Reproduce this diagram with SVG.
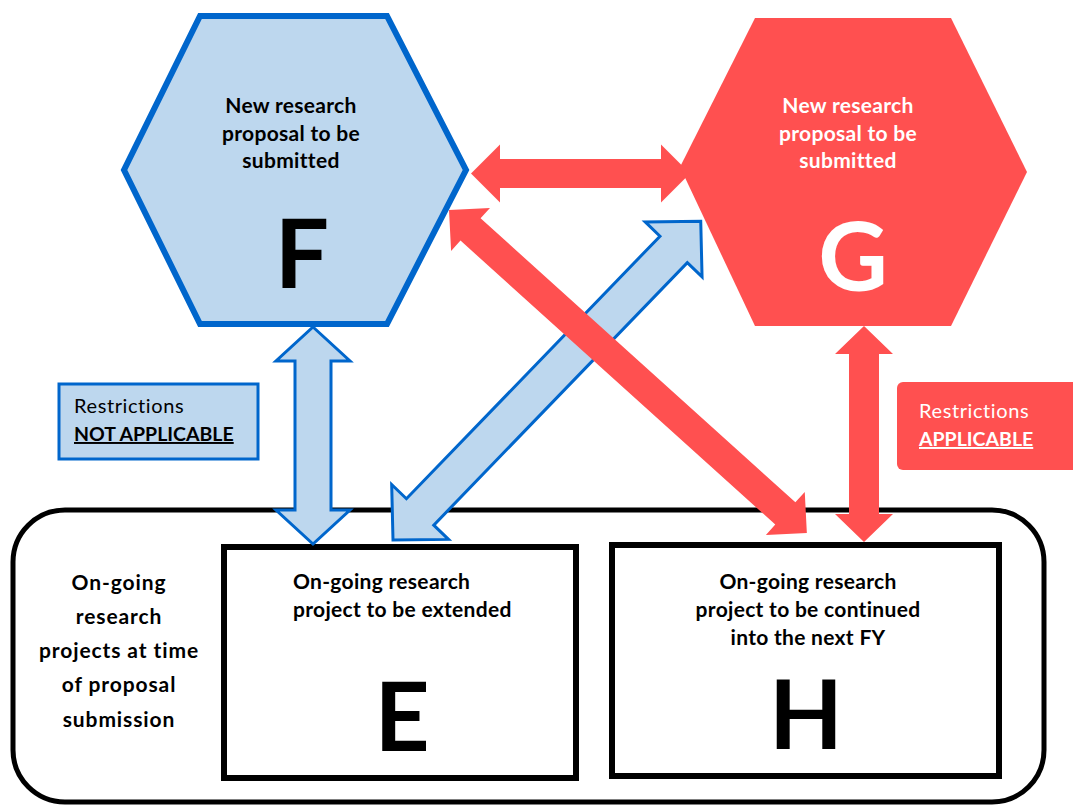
<svg xmlns="http://www.w3.org/2000/svg" width="1073" height="807" viewBox="0 0 1073 807">
<style>
  text { font-family: Lato, "Open Sans", "Liberation Sans", sans-serif; }
  .lbl { font-size: 21px; font-weight: bold; text-anchor: middle; fill: #000; letter-spacing: 0.3px; }
  .lblw { font-size: 21px; font-weight: bold; text-anchor: middle; fill: #fff; letter-spacing: 0.3px; }
  .side { letter-spacing: 0.9px; }
  .big { font-size: 96px; font-weight: bold; text-anchor: middle; }
  .red { fill: #FF5050; }
  .blue { fill: #BDD7EE; stroke: #0066CC; stroke-width: 3; stroke-linejoin: miter; }
  .box { fill: #fff; stroke: #000; stroke-width: 6; }
  .rs { font-size: 19.5px; }
  .rr { font-size: 20px; letter-spacing: 0.6px; }
</style>
<rect width="1073" height="807" fill="#fff"/>

<g id="container">
  <rect x="13" y="510" width="1031" height="292" rx="52" ry="52" fill="#fff" stroke="#000" stroke-width="5"/>
  <text class="lbl side" x="119" y="590">On-going</text>
  <text class="lbl side" x="119" y="624">research</text>
  <text class="lbl side" x="119" y="658">projects at time</text>
  <text class="lbl side" x="119" y="692">of proposal</text>
  <text class="lbl side" x="119" y="727">submission</text>
</g>

<g id="node-E">
  <rect class="box" x="224" y="547" width="352" height="231"/>
  <text class="lbl" x="293" y="589" style="text-anchor:start">On-going research</text>
  <text class="lbl" x="293" y="617" style="text-anchor:start">project to be extended</text>
  <text class="big" x="402" y="751">E</text>
</g>

<g id="node-H">
  <rect class="box" x="612" y="545" width="387" height="231"/>
  <text class="lbl" x="808" y="589">On-going research</text>
  <text class="lbl" x="808" y="617">project to be continued</text>
  <text class="lbl" x="808" y="645">into the next FY</text>
  <text class="big" x="806" y="749">H</text>
</g>

<g id="node-F">
  <polygon points="200,16 387,16 466,170 387,324 200,324 124,170" fill="#BDD7EE" stroke="#0066CC" stroke-width="6"/>
  <text class="lbl" x="291" y="113">New research</text>
  <text class="lbl" x="291" y="141">proposal to be</text>
  <text class="lbl" x="291" y="168">submitted</text>
  <text class="big" x="302" y="288">F</text>
</g>

<g id="connectors">
  <polygon class="red" transform="translate(471,173.5)" points="0,0 29,-29 29,-14.5 190,-14.5 190,-29 219,0 190,29 190,14.5 29,14.5 29,29"/>
  <polygon class="blue" transform="translate(313,327) rotate(90)" points="0,0 34,-37 34,-18 183,-18 183,-37 217,0 183,37 183,18 34,18 34,37"/>
  <polygon class="blue" stroke-width="2.5" transform="translate(393,540) rotate(-46)" points="0,0 39,-39.5 39,-19 404,-19 404,-39.5 443,0 404,39.5 404,19 39,19 39,39.5"/>
  <polygon class="red" transform="translate(449,210) rotate(42.06)" points="0,0 29,-29 29,-15 453,-15 453,-29 482,0 453,29 453,15 29,15 29,29"/>
  <polygon class="red" transform="translate(864,326) rotate(90)" points="0,0 28,-29 28,-15 188,-15 188,-29 216,0 188,29 188,15 28,15 28,29"/>
</g>

<g id="node-G">
  <polygon class="red" points="755,18 951,18 1027,172 951,326 755,326 680,167"/>
  <text class="lblw" x="848" y="113">New research</text>
  <text class="lblw" x="848" y="141">proposal to be</text>
  <text class="lblw" x="848" y="168">submitted</text>
  <text class="big" x="853" y="291" fill="#fff">G</text>
</g>

<g id="note-not-applicable">
  <rect x="59" y="384" width="199" height="75" fill="#BDD7EE" stroke="#0066CC" stroke-width="3"/>
  <text class="rr" x="74" y="413">Restrictions</text>
  <text class="rs" x="74" y="441" font-weight="bold" text-decoration="underline">NOT APPLICABLE</text>
</g>

<g id="note-applicable">
  <rect x="897" y="382" width="190" height="88" rx="6" ry="6" fill="#FF5050"/>
  <text class="rr" x="919" y="418" fill="#fff">Restrictions</text>
  <text class="rs" x="919" y="446" fill="#fff" font-weight="bold" text-decoration="underline">APPLICABLE</text>
</g>
</svg>
